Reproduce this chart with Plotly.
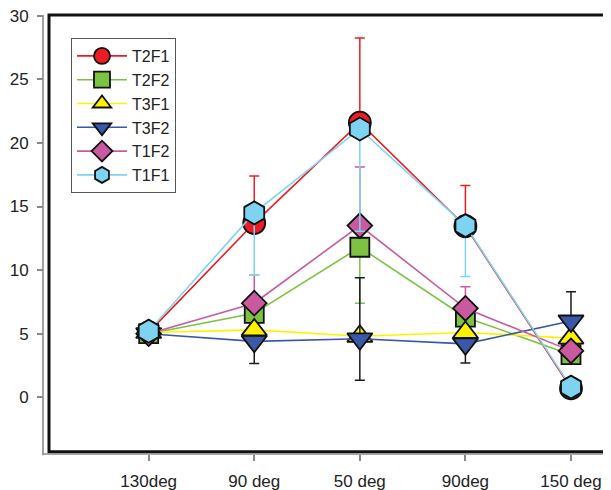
import plotly.graph_objects as go

# ---- data ----
categories = ["130deg", "90 deg", "50 deg", "90deg", "150 deg"]

T2F1 = [5.1, 13.7, 21.6, 13.45, 0.7]
T2F1_plus = [0, 3.7, 6.65, 3.2, 0]
T2F1_minus = [0, 0, 0, 0, 0]

T2F2 = [5.0, 6.6, 11.8, 6.3, 3.35]
T2F2_plus = [0, 0, 0, 0, 0]
T2F2_minus = [0, 0, 4.4, 0, 0]

T3F1 = [5.1, 5.3, 4.8, 5.1, 4.65]
T3F1_plus = [0, 0, 0, 0, 0]
T3F1_minus = [0, 0, 0, 0, 0]

T3F2 = [5.0, 4.4, 4.6, 4.2, 6.0]
T3F2_plus = [0, 0, 4.8, 0, 2.3]
T3F2_minus = [0, 1.75, 3.25, 1.5, 0]

T1F2 = [5.0, 7.4, 13.5, 7.0, 3.65]
T1F2_plus = [0, 2.2, 4.6, 1.7, 0]
T1F2_minus = [0, 0, 0, 0, 0]

T1F1 = [5.2, 14.5, 21.1, 13.5, 0.8]
T1F1_plus = [0, 0, 0, 0, 0]
T1F1_minus = [0, 4.9, 8.05, 4.0, 0]

y_ticks = [0, 5, 10, 15, 20, 25, 30]

series = [
    ("T2F1", T2F1, T2F1_plus, T2F1_minus, "#ED1C24", "#ED1C24", "circle", 22),
    ("T2F2", T2F2, T2F2_plus, T2F2_minus, "#7DC242", "#7DC242", "square", 19),
    ("T3F1", T3F1, T3F1_plus, T3F1_minus, "#FFF200", "#FFF200", "triangle-up", 22),
    ("T3F2", T3F2, T3F2_plus, T3F2_minus, "#3B58A8", "#1A1A1A", "triangle-down", 22),
    ("T1F2", T1F2, T1F2_plus, T1F2_minus, "#C95AA0", "#C95AA0", "diamond", 19),
    ("T1F1", T1F1, T1F1_plus, T1F1_minus, "#7ED3F1", "#7ED3F1", "hexagon", 23),
]

fig = go.Figure()
for name, vals, plus, minus, color, ecolor, symbol, size in series:
    fig.add_trace(go.Scatter(
        x=categories, y=vals, name=name, mode="lines+markers",
        line=dict(color=color, width=1.6),
        marker=dict(symbol=symbol, size=size, color=color,
                    line=dict(color="#111111", width=1.8)),
        error_y=dict(type="data", symmetric=False, array=plus,
                     arrayminus=minus, color=ecolor, thickness=1.5, width=5),
    ))

FONT = "Liberation Sans, Arial, sans-serif"
OFF = 8  # page body margin
W, H = 611 - OFF, 490 - OFF
L, R, T = 43 - OFF, 0, 15 - OFF
B = H - (454 - OFF)
pw, ph = W - L - R, H - T - B
xdom0 = (49 - 43) / pw
ydom0 = (454 - 451.7) / ph
ytop = 30.06
ybot = 30 - (451.7 - 15) / 12.74

fig.update_layout(
    width=W, height=H,
    margin=dict(l=L, r=R, t=T, b=B, pad=0, autoexpand=False),
    paper_bgcolor="white", plot_bgcolor="white",
    font=dict(family=FONT, size=17, color="#222222"),
    showlegend=True,
    legend=dict(x=(71 - 43) / pw, y=(454 - 38) / ph, xanchor="left", yanchor="top",
                bgcolor="white", bordercolor="#555555", borderwidth=1,
                font=dict(size=16, family=FONT, color="#222222"),
                tracegroupgap=0, itemsizing="trace", itemwidth=50,
                entrywidth=128, entrywidthmode="pixels"),
    xaxis=dict(domain=[xdom0, 1], anchor="free", position=0,
               type="category", range=[-0.944, 4.379],
               showgrid=False, zeroline=False, showline=False,
               ticks="outside", ticklen=6, tickwidth=1.5, tickcolor="#888888",
               ticklabelstandoff=6, automargin=False, ticklabeloverflow="allow",
               tickfont=dict(size=17, family=FONT, color="#222222")),
    yaxis=dict(domain=[ydom0, 1], anchor="free", position=0,
               range=[ybot, ytop], tickvals=y_ticks,
               showgrid=False, zeroline=False, showline=False,
               ticks="outside", ticklen=6, tickwidth=1.5, tickcolor="#888888",
               ticklabelstandoff=5, automargin=False, ticklabeloverflow="allow",
               tickfont=dict(size=17, family=FONT, color="#222222")),
    shapes=[
        dict(type="rect", xref="paper", yref="paper", x0=xdom0, x1=1.02,
             y0=ydom0, y1=1, line=dict(color="#111111", width=3), layer="above"),
        dict(type="line", xref="paper", yref="paper", x0=0, x1=0, y0=-0.003, y1=1,
             line=dict(color="#8a8a8a", width=1.6)),
        dict(type="line", xref="paper", yref="paper", x0=0, x1=1.02, y0=0, y1=0,
             line=dict(color="#8a8a8a", width=1.6)),
    ],
)

fig.write_html("out.html")
